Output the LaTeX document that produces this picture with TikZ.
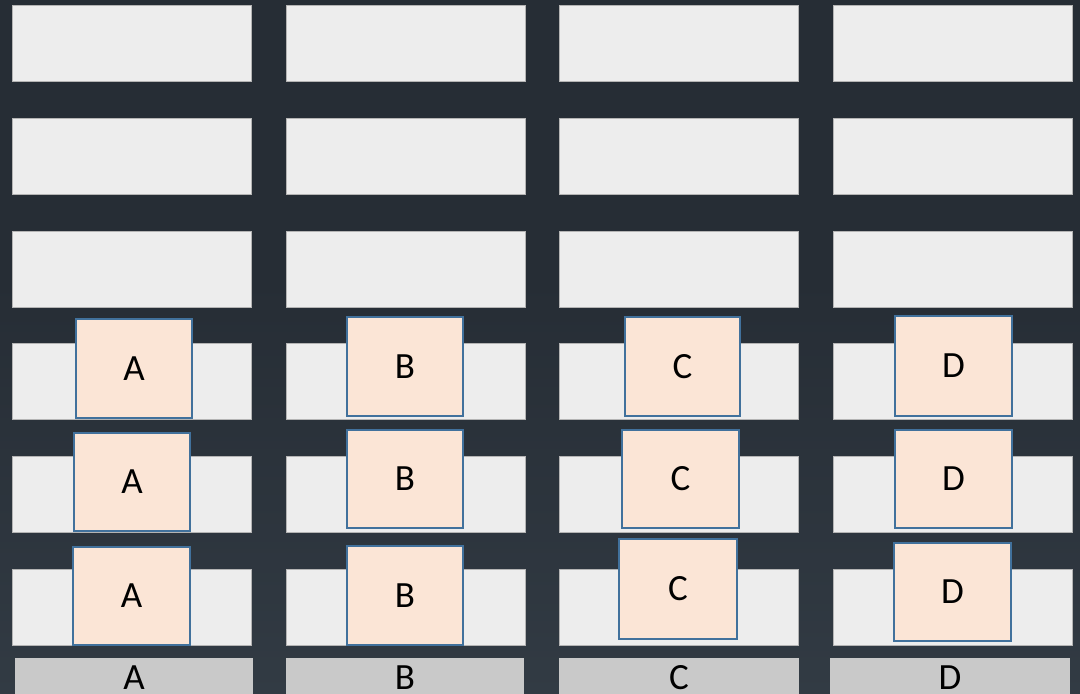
\documentclass[tikz,border=0pt]{standalone}
\usepackage{fontspec}
\setmainfont{Carlito}
\definecolor{bgtop}{HTML}{262D35}
\definecolor{bgbot}{HTML}{3E4953}
\definecolor{slot}{HTML}{EDEDED}
\definecolor{slotedge}{HTML}{B4B4B4}
\definecolor{peach}{HTML}{FBE5D6}
\definecolor{peachedge}{HTML}{41719C}
\definecolor{base}{HTML}{C9C9C9}
\pgfdeclareverticalshading{bgshade}{100bp}{color(0bp)=(bgbot); color(30bp)=(bgtop!60!bgbot); color(55bp)=(bgtop); color(100bp)=(bgtop)}
\begin{document}
\begin{tikzpicture}[x=1pt,y=-1pt,
  slotbox/.style={draw=slotedge, line width=0.7pt, fill=slot, inner sep=0pt, outer sep=0pt, minimum width=239pt, minimum height=76pt, anchor=north west},
  blk/.style={draw=peachedge, line width=1.5pt, fill=peach, inner sep=0pt, outer sep=0pt, anchor=north west, font=\fontsize{37}{44}\selectfont},
  basebox/.style={fill=base, inner sep=0pt, outer sep=0pt, anchor=north west, minimum height=40pt},
  baselabel/.style={anchor=base, inner sep=0pt, font=\fontsize{37}{44}\selectfont}]
\useasboundingbox (0,0) rectangle (1080,694);
\clip (0,0) rectangle (1080,694);
\shade[shading=bgshade] (0,0) rectangle (1080,694);
% slots
\foreach \c/\x in {1/12,2/286,3/559,4/833}{
  \foreach \r/\y in {1/5,2/118,3/231,4/343,5/456,6/569}{
    \node[slotbox] (s\c\r) at (\x,\y) {};
  }
}
% bottom labels
\node[basebox, minimum width=238pt] (g1) at (15,658) {};
\node[basebox, minimum width=238pt] (g2) at (286,658) {};
\node[basebox, minimum width=240pt] (g3) at (559,658) {};
\node[basebox, minimum width=240pt] (g4) at (830,658) {};
\node[baselabel] (t1) at (134,689) {A};
\node[baselabel] (t2) at (405,689) {B};
\node[baselabel] (t3) at (679,689) {C};
\node[baselabel] (t4) at (950,689) {D};
% blocks
\node[blk, minimum width=116pt, minimum height=99pt] (a4) at (76,319) {A};
\node[blk, minimum width=116pt, minimum height=98pt] (a5) at (74,433) {A};
\node[blk, minimum width=117pt, minimum height=98pt] (a6) at (73,547) {A};
\node[blk, minimum width=116pt, minimum height=99pt] (b4) at (347,317) {B};
\node[blk, minimum width=116pt, minimum height=98pt] (b5) at (347,430) {B};
\node[blk, minimum width=116pt, minimum height=99pt] (b6) at (347,546) {B};
\node[blk, minimum width=115pt, minimum height=99pt] (c4) at (625,317) {C};
\node[blk, minimum width=117pt, minimum height=98pt] (c5) at (622,430) {C};
\node[blk, minimum width=118pt, minimum height=100pt] (c6) at (619,539) {C};
\node[blk, minimum width=117pt, minimum height=100pt] (d4) at (895,316) {D};
\node[blk, minimum width=117pt, minimum height=98pt] (d5) at (895,430) {D};
\node[blk, minimum width=117pt, minimum height=98pt] (d6) at (894,543) {D};
\end{tikzpicture}
\end{document}
